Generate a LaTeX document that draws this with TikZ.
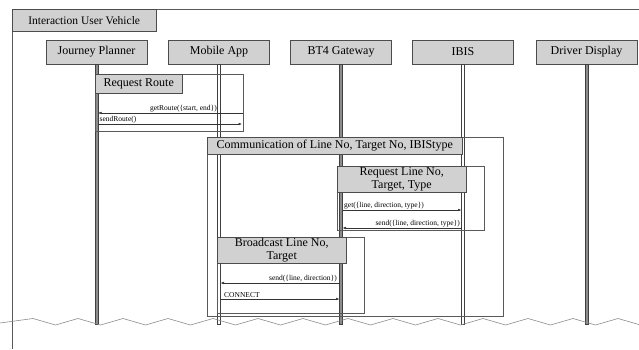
\documentclass[tikz,border=0pt]{standalone}
\usepackage{fontspec}
\setmainfont{Liberation Serif}
\usetikzlibrary{arrows.meta}

\tikzset{
  head/.style={draw=black!70, fill=black!18, minimum width=101pt, minimum height=24pt,
    inner sep=0pt, font=\fontsize{12}{14}\selectfont},
  frag/.style={draw=black!65, line width=0.6pt},
  fragtitle/.style={draw=black!70, fill=black!18, anchor=north west, inner sep=0pt,
    align=center, font=\fontsize{12}{14}\selectfont},
  bar/.style={draw=black!75, line width=0.5pt},
  msg/.style={black!80, line width=0.5pt, -{Latex[length=3.5pt,width=2.6pt]}},
  msgtext/.style={inner sep=1pt, font=\fontsize{7.5}{8}\selectfont}
}

\begin{document}
\begin{tikzpicture}[x=1pt,y=-1pt]
\useasboundingbox (0,0) rectangle (639,349);

% outer frame and its title
\draw[frag] (12,349) -- (12,9) -- (639,9);
\node[fragtitle, minimum width=144pt, minimum height=22pt, font=\fontsize{11.5}{13}\selectfont] (sd) at (12,9) {Interaction User Vehicle};

% lifeline heads
\node[head] (jp) at (96.5,52) {Journey Planner};
\node[head] (ma) at (219,52) {Mobile App};
\node[head] (bt) at (341,52) {BT4 Gateway};
\node[head] (ibis) at (463,52) {IBIS};
\node[head] (dd) at (586.5,52) {Driver Display};

% end of the lifelines
\coordinate (bot) at (0,324);
\foreach \n/\c in {jp/black!45, ma/white, bt/black!45, ibis/white, dd/black!45}
  \draw[bar, fill=\c] ([xshift=-1.5pt]\n.south) rectangle ([xshift=1.5pt]\n.south |- bot);

% broken-off bottom
\draw[black!45, line width=0.6pt] (0,323) \foreach \k in {0,...,14} { -- (33+45*\k,318.5) -- (55.5+45*\k,325) };

% Request Route
\draw[frag] (95,74) rectangle (243,131);
\node[fragtitle, minimum width=87pt, minimum height=19pt] (rr) at (95,74) {Request Route};
\coordinate (rre) at (243,0);
\coordinate (y1) at (0,113);
\coordinate (y2) at (0,124);
\draw[msg] (rre |- y1) -- ([xshift=1.5pt]jp.south |- y1);
\node[msgtext, anchor=south east] (m1) at ([xshift=-1pt]ma.south |- y1) {getRoute(\{start, end\})};
\draw[msg] ([xshift=1.5pt]jp.south |- y2) -- ([xshift=-1pt]rre |- y2);
\node[msgtext, anchor=south west] (m2) at ([xshift=2pt]jp.south |- y2) {sendRoute()};

% Communication of Line No, Target No, IBIStype
\draw[frag] (207,137) rectangle (503,316);
\node[fragtitle, minimum width=255pt, minimum height=17pt] (com) at (207,137) {Communication of Line No, Target No, IBIStype};

% Request Line No, Target, Type
\draw[frag] (337,166) rectangle (484,230);
\node[fragtitle, minimum width=129pt, minimum height=26pt, font=\fontsize{12}{13}\selectfont] (rl) at (337,166) {Request Line No,\\Target, Type};
\coordinate (y3) at (0,210);
\coordinate (y4) at (0,228);
\draw[msg] ([xshift=1.5pt]bt.south |- y3) -- ([xshift=-1.5pt]ibis.south |- y3);
\node[msgtext, anchor=south west] (m3) at ([xshift=2pt]bt.south |- y3) {get(\{line, direction, type\})};
\draw[msg] ([xshift=-1.5pt]ibis.south |- y4) -- ([xshift=1.5pt]bt.south |- y4);
\node[msgtext, anchor=south east] (m4) at ([xshift=-2pt]ibis.south |- y4) {send(\{line, direction, type\})};

% Broadcast Line No, Target
\draw[frag] (217,237) rectangle (364,313);
\node[fragtitle, minimum width=129pt, minimum height=26pt, font=\fontsize{12}{13}\selectfont] (bc) at (217,237) {Broadcast Line No,\\Target};
\coordinate (y5) at (0,283);
\coordinate (y6) at (0,299);
\draw[msg] ([xshift=-1.5pt]bt.south |- y5) -- ([xshift=1.5pt]ma.south |- y5);
\node[msgtext, anchor=south east] (m5) at ([xshift=-3pt]bt.south |- y5) {send(\{line, direction\})};
\draw[msg] ([xshift=1.5pt]ma.south |- y6) -- ([xshift=-1.5pt]bt.south |- y6);
\node[msgtext, anchor=south west] (m6) at ([xshift=4pt]ma.south |- y6) {CONNECT};

\end{tikzpicture}
\end{document}
